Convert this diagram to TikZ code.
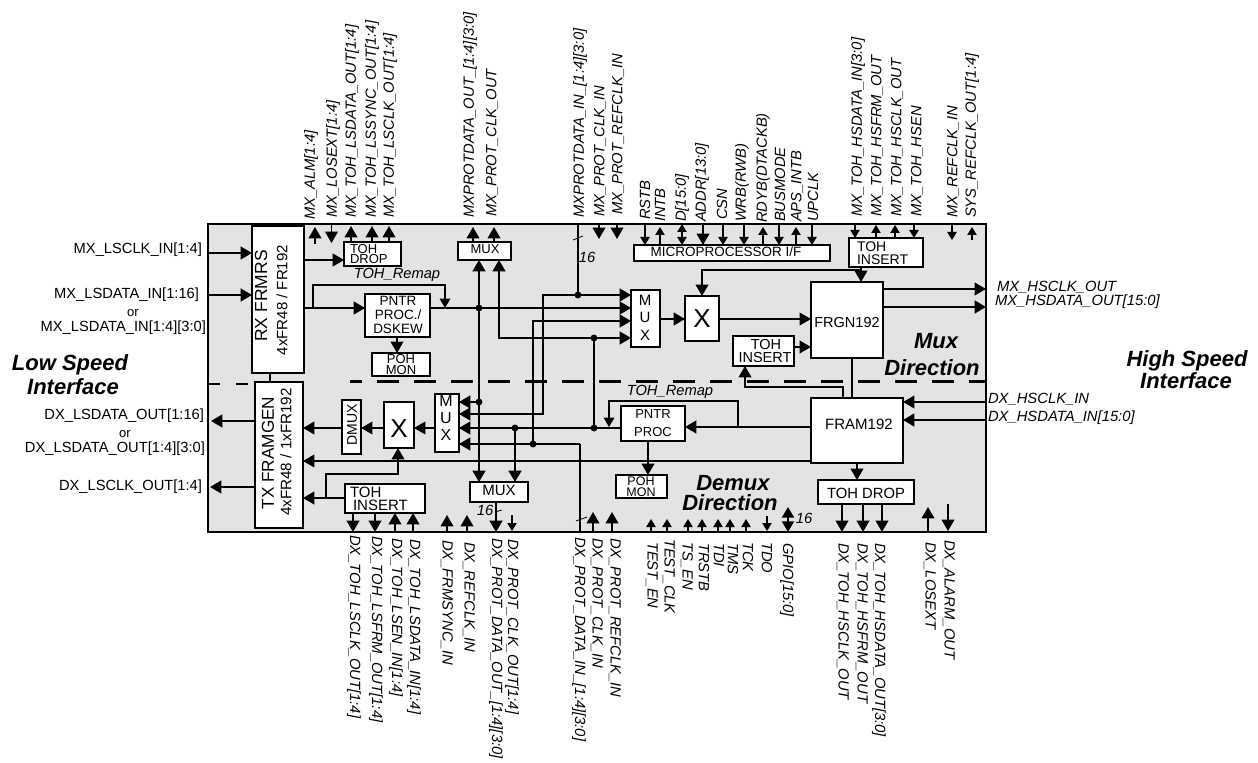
\documentclass[tikz,border=0pt]{standalone}
\usepackage{fontspec}
\setmainfont{Liberation Sans}
\usetikzlibrary{arrows.meta}
\newcommand\pxf[1]{\fontsize{\dimexpr #1pt*3/4\relax}{\dimexpr #1pt*9/10\relax}\selectfont}
\newcount\pincount
\definecolor{chipgray}{HTML}{E3E3E3}
\tikzset{
  chipbox/.style={draw=black,fill=chipgray,line width=1.4pt,inner sep=0pt,outer sep=0pt},
  blk/.style={draw=black,fill=white,line width=1.3pt,inner sep=0pt,outer sep=0pt},
  dot/.style={circle,fill=black,inner sep=0pt,minimum size=5.2pt,outer sep=0pt},
  txt/.style={inner sep=0pt,outer sep=0pt,align=center,font=\pxf{13}},
  siglab/.style={inner sep=0pt,outer sep=0pt,font=\pxf{14.8}\itshape},
  pinlab/.style={inner sep=0pt,outer sep=0pt,font=\pxf{14.7}},
  dirlab/.style={inner sep=0pt,outer sep=0pt,align=center,font=\pxf{22}\bfseries\itshape},
  bus/.style={line width=1.8pt,-{Triangle[length=8.5pt,width=9.5pt]}},
  busplain/.style={line width=1.8pt},
  sig/.style={line width=1.2pt,-{Triangle[length=8.5pt,width=9.5pt]}},
  sigs/.style={line width=1pt,-{Triangle[length=6pt,width=7pt]}},
  sigbi/.style={line width=1pt,{Triangle[length=6pt,width=7pt]}-{Triangle[length=6pt,width=7pt]}},
  busbi/.style={line width=1.4pt,{Triangle[length=8pt,width=9pt]}-{Triangle[length=8pt,width=9pt]}},
  hairs/.style={line width=0.8pt,-{Triangle[length=7pt,width=8pt]}},
  tick/.style={line width=0.6pt},
  dashdiv/.style={line width=1.6pt}
}
% box from two corners, in pixels
\newcommand\bx[5]{%
  \pgfmathsetmacro\bxw{(#4-#2)*0.75}\pgfmathsetmacro\bxh{(#5-#3)*0.75}%
  \pgfmathsetmacro\bxx{(#2+#4)/2}\pgfmathsetmacro\bxy{(#3+#5)/2}%
  \node[blk,minimum width=\bxw pt,minimum height=\bxh pt] (#1) at (\bxx,\bxy) {};}
% free pin: style, x, y from, y to
\newcommand\pin[4]{%
  \global\advance\pincount by 1
  \coordinate (pa\the\pincount) at (#2,#3);
  \coordinate (pb\the\pincount) at (#2,#4);
  \draw[#1] (pa\the\pincount) -- (pb\the\pincount);}
\begin{document}
\begin{tikzpicture}[x=0.75pt,y=-0.75pt]
\useasboundingbox (0,0) rectangle (1258,763);
\node[chipbox,minimum width=583.5pt,minimum height=231pt] (chip) at (597,378) {};
% dashed divider
\coordinate (dl) at (208,384); \coordinate (dm) at (250,384);
\coordinate (dr1) at (350,381.5); \coordinate (dr2) at (985,381.5);
\draw[dashdiv,dash pattern=on 9pt off 12pt] (dl) -- (dm);
\draw[dashdiv,dash pattern=on 16.5pt off 11.25pt,dash phase=7.5pt] (dr1) -- (dr2);
% blocks
\bx{rx}{252}{226}{304}{373}
\bx{tx}{255}{382}{303}{528}
\bx{tohdropa}{344}{242}{401}{266}
\bx{muxtop}{458}{242}{511}{260}
\bx{pntra}{365}{294}{430}{337}
\bx{poha}{372}{353}{430}{376}
\bx{micro}{634}{245}{830}{261}
\bx{tohinsa}{849}{238}{923}{267}
\bx{muxr}{631}{290}{660}{347}
\bx{xr}{685}{296}{719}{341}
\bx{frgn}{811}{282}{883}{358}
\bx{tohinsb}{733}{336}{794}{366}
\bx{fram}{811}{398}{903}{463}
\bx{pntrb}{621}{406}{685}{441}
\bx{pohb}{616}{475}{667}{498}
\bx{tohdropb}{818}{480}{914}{504}
\bx{muxl}{435}{394}{459}{452}
\bx{xl}{384}{402}{414}{448}
\bx{dmux}{342}{400}{361}{454}
\bx{tohinsc}{345}{484}{425}{513}
\bx{muxb}{470}{482}{528}{502}
% junction dots
\node[dot] (j1) at (479,308) {};
\node[dot] (j2) at (479,402) {};
\node[dot] (j3) at (578,295) {};
\node[dot] (j4) at (594,338) {};
\node[dot] (j5) at (594,428) {};
\node[dot] (j6) at (515,428) {};
\node[dot] (j7) at (533,444) {};
% left inputs / outputs
\coordinate (li1) at (207,253); \coordinate (li2) at (207,295);
\draw[bus] (li1) -- (rx.west |- li1);
\draw[bus] (li2) -- (rx.west |- li2);
\coordinate (lo1) at (211,421); \coordinate (lo2) at (210,487);
\draw[bus] (tx.west |- lo1) -- (lo1);
\draw[bus] (tx.west |- lo2) -- (lo2);
\draw[line width=1pt] (rx.south -| 270,0) -- (tx.north -| 270,0);
% mux direction
\draw[bus] (rx.east |- 0,260) -- (tohdropa.west |- 0,260);
\draw[bus] (rx.east |- 0,308) -- (pntra.west |- 0,308);
\coordinate (ra) at (313,308); \coordinate (rb) at (445,308);
\draw[hairs] (ra) -- (313,285) -- (445,285) -- (rb);
\draw[sig] (pntra.south -| 397,0) -- (poha.north -| 397,0);
\draw[busplain] (pntra.east |- 0,308) -- (j1);
\draw[bus] (j1) -- (muxr.west |- j1);
\draw[bus] (j1) -- (muxtop.south -| j1);
\draw[bus] (j1) -- (j2) -- (muxb.north -| j2);
\draw[bus] (j2) -- (muxl.east |- j2);
\draw[bus] (j4) -- (muxr.west |- j4);
\draw[bus] (j4) -- (499,338) -- (muxtop.south -| 499,0);
\draw[busplain] (j4) -- (j5);
\coordinate (t16) at (578,224);
\draw[line width=1.4pt] (chip.north -| t16) -- (j3);
\draw[bus] (j3) -- (muxr.west |- j3);
\draw[bus] (j3) -- (543,295) -- (543,414) -- (muxl.east |- 0,414);
\draw[bus] (j7) -- (533,321) -- (muxr.west |- 0,321);
\coordinate (bb) at (580,444);
\draw[line width=1.5pt] (chip.south -| bb) -- (bb);
\draw[bus] (bb) -- (j7) -- (muxl.east |- j7);
\draw[bus] (muxr.east |- 0,319) -- (xr.west |- 0,319);
\draw[sig] (xr.east |- 0,319) -- (frgn.west |- 0,319);
\draw[sig] (tohinsb.east |- 0,347) -- (frgn.west |- 0,347);
\draw[sig] (tohinsa.south -| 861,0) -- (frgn.north -| 861,0);
\coordinate (ti) at (861,270);
\draw[sig] (ti) -- (702,270) -- (xr.north -| 702,0);
\draw[sig] (frgn.east |- 0,289) -- (chip.east |- 0,289);
\draw[bus] (frgn.east |- 0,307) -- (chip.east |- 0,307);
\draw[line width=1.6pt] (frgn.south -| 852,0) -- (fram.north -| 852,0);
\draw[sig] (fram.north -| 843,0) -- (843,387) -- (745,387) -- (tohinsb.south -| 745,0);
% demux direction
\draw[sig] (chip.east |- 0,402) -- (fram.east |- 0,402);
\draw[bus] (chip.east |- 0,420) -- (fram.east |- 0,420);
\draw[bus] (fram.west |- 0,427) -- (pntrb.east |- 0,427);
\coordinate (rc) at (738,427); \coordinate (rd) at (609,427);
\draw[hairs] (rc) -- (738,401) -- (609,401) -- (rd);
\draw[sig] (pntrb.south -| 648,0) -- (pohb.north -| 648,0);
\draw[sig] (fram.south -| 857,0) -- (tohdropb.north -| 857,0);
\draw[sig] (fram.west |- 0,461) -- (tx.east |- 0,461);
\draw[busplain] (pntrb.west |- j5) -- (j5);
\draw[busplain] (j5) -- (j6);
\draw[bus] (j6) -- (muxl.east |- j6);
\draw[bus] (j6) -- (muxb.north -| j6);
\draw[sig] (muxl.west |- 0,428) -- (xl.east |- 0,428);
\draw[sig] (xl.west |- 0,428) -- (dmux.east |- 0,428);
\draw[sig] (dmux.west |- 0,428) -- (tx.east |- 0,428);
\draw[bus] (tohinsc.west |- 0,498) -- (tx.east |- 0,498);
\coordinate (tb) at (326,498);
\draw[sig] (tb) -- (326,474) -- (398,474) -- (xl.south -| 398,0);
% pins on the top edge
\pin{sig}{315}{244}{227}
\pin{sig}{331.5}{225}{243}
\draw[sig] (tohdropa.north -| 351,0) -- ++(0,-16);
\draw[sig] (tohdropa.north -| 372,0) -- ++(0,-16);
\draw[sig] (tohdropa.north -| 389,0) -- ++(0,-16);
\draw[sig] (muxtop.north -| 473,0) -- ++(0,-15);
\draw[sig] (muxtop.north -| 494,0) -- ++(0,-15);
\pin{sig}{599}{225}{239}
\pin{sig}{617}{225}{239}
\draw[sigs] (chip.north -| 645,0) -- (micro.north -| 645,0);
\draw[sigs] (micro.north -| 660,0) -- ++(0,-18);
\draw[sigbi] (micro.north -| 682,0) -- (chip.north -| 682,0);
\draw[sig] (chip.north -| 703,0) -- (micro.north -| 703,0);
\draw[sigs] (chip.north -| 723,0) -- (micro.north -| 723,0);
\draw[sigs] (chip.north -| 744,0) -- (micro.north -| 744,0);
\draw[sigs] (micro.north -| 763,0) -- ++(0,-18);
\draw[sigs] (chip.north -| 779,0) -- (micro.north -| 779,0);
\draw[sigs] (micro.north -| 796,0) -- ++(0,-18);
\draw[sigs] (chip.north -| 812,0) -- (micro.north -| 812,0);
\draw[sigs] (chip.north -| 855,0) -- (tohinsa.north -| 855,0);
\draw[sigs] (tohinsa.north -| 876,0) -- ++(0,-13);
\draw[sigs] (tohinsa.north -| 895,0) -- ++(0,-13);
\draw[sigs] (chip.north -| 914,0) -- (tohinsa.north -| 914,0);
\pin{sigs}{952}{225}{240}
\pin{sigs}{972}{240}{227}
% pins on the bottom edge
\draw[sig] (tohinsc.south -| 353,0) -- (chip.south -| 353,0);
\draw[sig] (tohinsc.south -| 375,0) -- (chip.south -| 375,0);
\draw[sig] (chip.south -| 395,0) -- (tohinsc.south -| 395,0);
\draw[sig] (chip.south -| 413,0) -- (tohinsc.south -| 413,0);
\pin{sig}{447}{531}{515}
\pin{sig}{467}{531}{515}
\draw[bus] (muxb.south -| 496,0) -- (chip.south -| 496,0);
\pin{sigs}{512}{515}{531}
\pin{sig}{593}{531}{512}
\pin{sig}{612}{531}{512}
\pin{sigs}{651}{531}{519}
\pin{sigs}{667}{531}{519}
\pin{sigs}{688}{531}{519}
\pin{sigs}{702}{531}{519}
\pin{sigs}{718}{531}{519}
\pin{sigs}{730}{531}{519}
\pin{sigs}{746}{531}{519}
\pin{sigs}{767}{516}{531}
\pin{busbi}{788}{507}{532}
\draw[sig] (tohdropb.south -| 842,0) -- (chip.south -| 842,0);
\draw[sig] (tohdropb.south -| 863,0) -- (chip.south -| 863,0);
\draw[sig] (tohdropb.south -| 882,0) -- (chip.south -| 882,0);
\pin{sig}{928}{531}{507}
\pin{sig}{948}{504}{531}
% bus width ticks
\coordinate (k1a) at (573,240); \coordinate (k1b) at (583,236);
\coordinate (k2a) at (576,521); \coordinate (k2b) at (587,517);
\coordinate (k3a) at (495,512); \coordinate (k3b) at (502,510);
\draw[tick] (k1a) -- (k1b); \draw[tick] (k2a) -- (k2b); \draw[tick] (k3a) -- (k3b);
% block texts
\node[txt,font=\pxf{17.5},rotate=90] (trx1) at (261,296) {RX FRMRS};
\node[txt,font=\pxf{15},rotate=90] (trx2) at (282,300) {4xFR48 / FR192};
\node[txt,font=\pxf{17.2},rotate=90] (ttx1) at (268,453) {TX FRAMGEN};
\node[txt,font=\pxf{15.2},rotate=90] (ttx2) at (286,452) {4xFR48 / 1xFR192};
\node[txt,anchor=west] (tda1) at (350,249) {TOH};
\node[txt,anchor=west] (tda2) at (350,259.5) {DROP};
\node[txt] (tmt) at (485,249) {MUX};
\node[txt,font=\pxf{13.5}] (tp1) at (398,301) {PNTR};
\node[txt,font=\pxf{13.5}] (tp2) at (398,315) {PROC./};
\node[txt,font=\pxf{13.5}] (tp3) at (398,329) {DSKEW};
\node[txt] (tpa1) at (401,359.5) {POH};
\node[txt] (tpa2) at (401,370.5) {MON};
\node[txt,font=\pxf{13.5}] (tmi) at (726,252) {MICROPROCESSOR I/F};
\node[txt,font=\pxf{14},anchor=west] (tia1) at (857,247) {TOH};
\node[txt,font=\pxf{14},anchor=west] (tia2) at (857,260) {INSERT};
\node[txt,font=\pxf{15},anchor=center] (tmr1) at (645,300) {M};
\node[txt,font=\pxf{15}] (tmr2) at (645,317) {U};
\node[txt,font=\pxf{15}] (tmr3) at (645,335) {X};
\node[txt,font=\pxf{26}] (txr) at (702,319) {X};
\node[txt,font=\pxf{14.5}] (tf1) at (847,323) {FRGN192};
\node[txt,font=\pxf{14.5}] (tib1) at (766,345) {TOH};
\node[txt,font=\pxf{14.5}] (tib2) at (765,358) {INSERT};
\node[txt,font=\pxf{15}] (tf2) at (859,424) {FRAM192};
\node[txt,font=\pxf{13}] (tpb1) at (653,414) {PNTR};
\node[txt,font=\pxf{13}] (tpb2) at (653,432) {PROC};
\node[txt,font=\pxf{12.5}] (tpc1) at (641,481.5) {POH};
\node[txt,font=\pxf{12.5}] (tpc2) at (641,492) {MON};
\node[txt,font=\pxf{14.8}] (tdb) at (866,493) {TOH DROP};
\node[txt,font=\pxf{16}] (tml1) at (446,401) {M};
\node[txt,font=\pxf{16}] (tml2) at (446,418) {U};
\node[txt,font=\pxf{16}] (tml3) at (446,435) {X};
\node[txt,font=\pxf{26}] (txl) at (399,429) {X};
\node[txt,font=\pxf{14},rotate=90] (tdm) at (352,425) {DMUX};
\node[txt,font=\pxf{15},anchor=west] (tic1) at (350,492) {TOH};
\node[txt,font=\pxf{15},anchor=west] (tic2) at (353,505) {INSERT};
\node[txt,font=\pxf{15}] (tmb) at (499,490) {MUX};
\node[txt,font=\pxf{14.7}\itshape] (trm1) at (397,275) {TOH\_Remap};
\node[txt,font=\pxf{14.7}\itshape] (trm2) at (670,392) {TOH\_Remap};
\node[siglab] (n16a) at (587,257) {16};
\node[siglab] (n16b) at (485,510) {16};
\node[siglab] (n16c) at (804,518) {16};
% direction captions
\node[dirlab] (dc1) at (936,341) {Mux};
\node[dirlab] (dc2) at (932,368) {Direction};
\node[dirlab] (dc3) at (733,483) {Demux};
\node[dirlab] (dc4) at (730,503) {Direction};
\node[dirlab] (dc5) at (70,365) {Low Speed};
\node[dirlab] (dc6) at (73,387) {Interface};
\node[dirlab] (dc7) at (1187,361) {High Speed};
\node[dirlab] (dc8) at (1186,381) {Interface};
% left labels
\node[pinlab,anchor=east] (ll1) at (202,250) {MX\_LSCLK\_IN[1:4]};
\node[pinlab,anchor=east] (ll2) at (199,295) {MX\_LSDATA\_IN[1:16]};
\node[pinlab,font=\pxf{13}] (ll3) at (133,313) {or};
\node[pinlab,anchor=east] (ll4) at (206,328) {MX\_LSDATA\_IN[1:4][3:0]};
\node[pinlab,anchor=east] (ll5) at (204,416) {DX\_LSDATA\_OUT[1:16]};
\node[pinlab,font=\pxf{13}] (ll6) at (125,434) {or};
\node[pinlab,anchor=east] (ll7) at (205,449) {DX\_LSDATA\_OUT[1:4][3:0]};
\node[pinlab,anchor=east] (ll8) at (202,487) {DX\_LSCLK\_OUT[1:4]};
% right labels
\node[siglab,anchor=west] (rl1) at (997,287) {MX\_HSCLK\_OUT};
\node[siglab,anchor=west] (rl2) at (995,302) {MX\_HSDATA\_OUT[15:0]};
\node[siglab,anchor=west] (rl3) at (988,399) {DX\_HSCLK\_IN};
\node[siglab,anchor=west] (rl4) at (988,418) {DX\_HSDATA\_IN[15:0]};
% top labels
\foreach \n/\x/\y/\t in {1/311/220/MX\_ALM[1:4],2/333/218/MX\_LOSEXT[1:4],3/352/218/MX\_TOH\_LSDATA\_OUT[1:4],4/372/218/MX\_TOH\_LSSYNC\_OUT[1:4],5/390/218/MX\_TOH\_LSCLK\_OUT[1:4],6/470/218/MXPROTDATA\_OUT\_[1:4][3:0],7/492/217/MX\_PROT\_CLK\_OUT,8/580/218/MXPROTDATA\_IN\_[1:4][3:0],9/600/217/MX\_PROT\_CLK\_IN,10/618/215/MX\_PROT\_REFCLK\_IN,11/645/220/RSTB,12/660/222/INTB,13/682/222/D[15:0],14/702/222/ADDR[13:0],15/722/220/CSN,16/742/222/WRB(RWB),17/763/223/RDYB(DTACKB),18/780/222/BUSMODE,19/797/222/APS\_INTB,20/813/222/UPCLK,21/858/217/MX\_TOH\_HSDATA\_IN[3:0],22/877/217/MX\_TOH\_HSFRM\_OUT,23/897/217/MX\_TOH\_HSCLK\_OUT,24/917/217/MX\_TOH\_HSEN,25/953/218/MX\_REFCLK\_IN,26/972/218/SYS\_REFCLK\_OUT[1:4]}
  {\node[siglab,rotate=90,anchor=west] (top\n) at (\x,\y) {\t};}
% bottom labels
\foreach \n/\x/\y/\t in {1/354/535/DX\_TOH\_LSCLK\_OUT[1:4],2/376/536/DX\_TOH\_LSFRM\_OUT[1:4],3/396/538/DX\_TOH\_LSEN\_IN[1:4],4/414/539/DX\_TOH\_LSDATA\_IN[1:4],5/447/540/DX\_FRMSYNC\_IN,6/469/542/DX\_REFCLK\_IN,7/496/538/DX\_PROT\_DATA\_OUT\_[1:4][3:0],8/512/539/DX\_PROT\_CLK\_OUT[1:4],9/579/537/DX\_PROT\_DATA\_IN\_[1:4][3:0],10/597/538/DX\_PROT\_CLK\_IN,11/615/538/DX\_PROT\_REFCLK\_IN,12/652/542/TEST\_EN,13/669/539/TEST\_CLK,14/687/542/TS\_EN,15/704/543/TRSTB,16/719/543/TDI,17/733/543/TMS,18/748/542/TCK,19/767/542/TDO,20/787/543/GPIO[15:0],21/843/543/DX\_TOH\_HSCLK\_OUT,22/862/543/DX\_TOH\_HSFRM\_OUT,23/879/543/DX\_TOH\_HSDATA\_OUT[3:0],24/930/542/DX\_LOSEXT,25/949/540/DX\_ALARM\_OUT}
  {\node[siglab,rotate=-90,anchor=west] (bot\n) at (\x,\y) {\t};}
\end{tikzpicture}
\end{document}
